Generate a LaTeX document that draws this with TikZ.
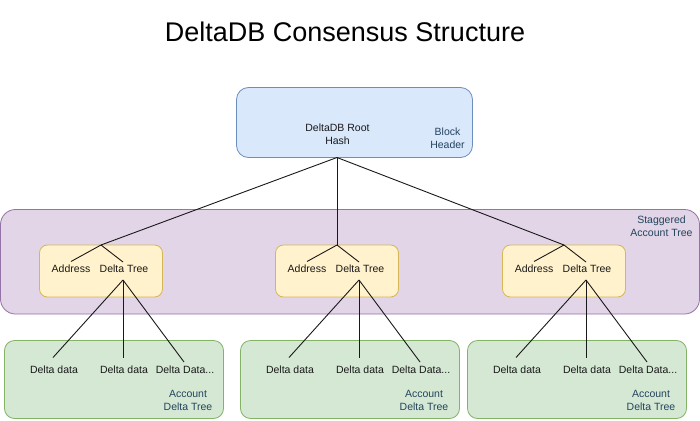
\documentclass[tikz,border=0pt]{standalone}
\usepackage{fontspec}
\setmainfont{Liberation Sans}
\definecolor{bluefill}{HTML}{DAE8FC}
\definecolor{bluedraw}{HTML}{6C8EBF}
\definecolor{purfill}{HTML}{E1D5E7}
\definecolor{purdraw}{HTML}{9673A6}
\definecolor{yelfill}{HTML}{FFF2CC}
\definecolor{yeldraw}{HTML}{D6B656}
\definecolor{grnfill}{HTML}{D5E8D4}
\definecolor{grndraw}{HTML}{82B366}
\definecolor{tagtext}{HTML}{23445D}
\begin{document}
\begin{tikzpicture}[x=1pt,y=-1pt,
  lbl/.style={inner sep=0pt, font=\fontsize{10.5}{12.7}\selectfont, text height=7.6pt, text depth=0pt, text=black!90},
  lbltwo/.style={inner sep=0pt, align=center, font=\fontsize{10.5}{12.7}\selectfont, text=black!90},
  tag/.style={inner sep=0pt, align=center, font=\fontsize{10.5}{12.7}\selectfont, text=tagtext},
  conn/.style={draw=black!90, line width=0.9pt},
  yelbox/.style={draw=yeldraw, fill=yelfill, rounded corners=8pt, line width=0.8pt},
  grnbox/.style={draw=grndraw, fill=grnfill, rounded corners=10pt, line width=0.8pt}]
\useasboundingbox (0,0) rectangle (700,420);
\fill[white] (0,0) rectangle (700,420);

% title
\node[inner sep=0pt, anchor=base, font=\fontsize{27}{32}\selectfont] (title) at (345,41.5) {DeltaDB Consensus Structure};

% block header
\draw[draw=bluedraw, fill=bluefill, rounded corners=12pt, line width=0.8pt] (236.5,87.5) rectangle (472.5,157.5);
\node[lbltwo] (roothash) at (337.5,134.5) {DeltaDB Root\\Hash};
\node[tag] (blockhdr) at (447.5,138.5) {Block\\Header};
\coordinate (root) at (337,157.5);

% staggered account tree
\draw[draw=purdraw, fill=purfill, rounded corners=15pt, line width=0.8pt] (0.5,209.5) rectangle (699.5,314);
\node[tag] (stag) at (661.5,226.5) {Staggered\\Account Tree};

\foreach \c/\n in {101/a,337/b,564/c}{
  \draw[yelbox] (\c-61.5,245) rectangle (\c+61.5,297);
  \draw[grnbox] (\c-96.5,340.5) rectangle (\c+122.5,418.5);
  \node[lbl] (addr\n) at (\c-30,268.5) {Address};
  \node[lbl] (dt\n) at (\c+23,268.5) {Delta Tree};
  \coordinate (apex\n) at (\c,245);
  \coordinate (addrtop\n) at (\c-30,261.5);
  \coordinate (dttop\n) at (\c+22,262);
  \coordinate (dtbot\n) at (\c+22,280);
  \node[lbl] (d1\n) at (\c-47,369.5) {Delta data};
  \node[lbl] (d2\n) at (\c+23,369.5) {Delta data};
  \node[lbl] (d3\n) at (\c+84,369.5) {Delta Data...};
  \coordinate (e1\n) at (\c-48,357.5);
  \coordinate (e2\n) at (\c+22,358);
  \coordinate (e3\n) at (\c+83,362);
  \node[tag] (acct\n) at (\c+87,400.5) {Account\\Delta Tree};
  \draw[conn] (root) -- (apex\n);
  \draw[conn] (apex\n) -- (addrtop\n);
  \draw[conn] (apex\n) -- (dttop\n);
  \draw[conn] (dtbot\n) -- (e1\n);
  \draw[conn] (dtbot\n) -- (e2\n);
  \draw[conn] (dtbot\n) -- (e3\n);
}
\end{tikzpicture}
\end{document}
